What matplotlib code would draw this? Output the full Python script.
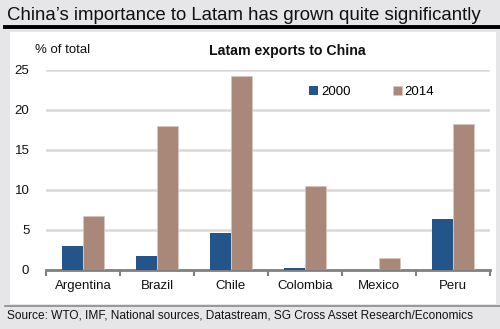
import matplotlib
matplotlib.use("Agg")
import matplotlib.pyplot as plt
from matplotlib.patches import Rectangle
from matplotlib.lines import Line2D
import numpy as np

plt.rcParams['font.family'] = ['Liberation Sans', 'DejaVu Sans']

categories = ["Argentina", "Brazil", "Chile", "Colombia", "Mexico", "Peru"]
series_names = ["2000", "2014"]
values_2000 = [3.0, 1.8, 4.6, 0.2, 0.0, 6.4]
values_2014 = [6.8, 18.0, 24.3, 10.5, 1.5, 18.3]
yticks = [0, 5, 10, 15, 20, 25]

c2000 = "#23558b"
c2014 = "#a98879"

W, H = 500, 329
fig = plt.figure(figsize=(W/100, H/100), dpi=100)
fig.patch.set_facecolor("#e6e6e8")

# white panel
fig.patches.append(Rectangle((10/W, 1-304/H), 486/W, 272/H, transform=fig.transFigure,
                             facecolor="white", edgecolor="none", zorder=-5))
# title line
fig.lines.append(Line2D([5/W, 1.0], [1-27/H, 1-27/H], transform=fig.transFigure,
                        color="black", lw=2.8))
fig.lines.append(Line2D([5/W, 1.0], [1-305.5/H, 1-305.5/H], transform=fig.transFigure,
                        color="#8a8a8a", lw=1.2))

fig.text(7/W, 1-15/H, "China\u2019s importance to Latam has grown quite significantly",
         fontsize=13.4, va="center", ha="left", color="#111111")
fig.text(7/W, 1-316/H, "Source: WTO, IMF, National sources, Datastream, SG Cross Asset Research/Economics",
         fontsize=8.6, va="center", ha="left", color="#111111")

ax = fig.add_axes([46/W, 1-270/H, 444/W, 200/H])
ax.set_zorder(5)
ax.set_facecolor("white")
x = np.arange(len(categories))
bw = 0.29
ax.bar(x - bw/2, values_2000, bw, color=c2000, label=series_names[0], zorder=3)
ax.bar(x + bw/2, values_2014, bw, color=c2014, label=series_names[1], zorder=3,
       edgecolor="#d8c8c0", linewidth=0.4)

ax.set_xlim(-0.5, len(categories) - 0.5)
ax.set_ylim(0, 25)
ax.set_yticks(yticks)
ax.yaxis.grid(True, color="#d9d9d9", lw=1.8, zorder=0)
ax.set_axisbelow(True)
ax.tick_params(axis="y", length=0, labelsize=9.5, pad=12, labelcolor="#111111")
ax.set_xticks(x)
ax.set_xticklabels(categories)
ax.tick_params(axis="x", which="major", length=0, labelsize=9.5, pad=7, labelcolor="#111111")
ax.set_xticks(np.arange(len(categories) + 1) - 0.5, minor=True)
ax.tick_params(axis="x", which="minor", length=4, width=1.5, color="#808080", direction="out")
for s in ["top", "right", "left"]:
    ax.spines[s].set_visible(False)
ax.spines["bottom"].set_color("#808080")
ax.spines["bottom"].set_linewidth(2)

fig.text(35/W, 1-50/H, "% of total", fontsize=9.5, va="center", ha="left", color="#111111")
fig.text(287/W, 1-51/H, "Latam exports to China", fontsize=10.2, fontweight="bold",
         va="center", ha="center", color="#111111")

leg = ax.legend(loc="center left", bbox_to_anchor=((309-46)/444, (270-92)/200), ncol=2,
                frameon=False, handlelength=0.7, handleheight=0.7, handletextpad=0.2,
                columnspacing=3.2, fontsize=9.5, borderaxespad=0, borderpad=0)

fig.savefig("out.png", dpi=100, facecolor=fig.get_facecolor())
